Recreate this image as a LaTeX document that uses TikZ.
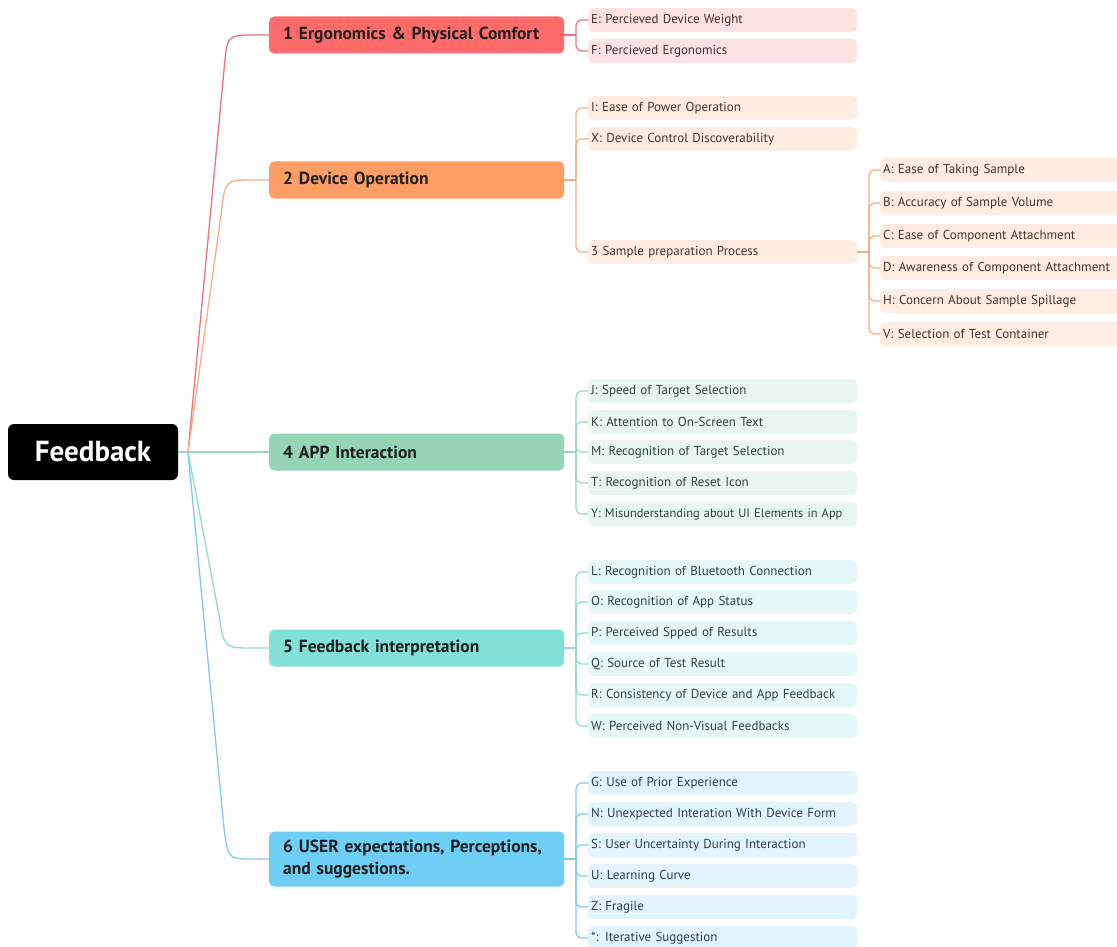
\documentclass[tikz,border=0pt]{standalone}
\usepackage{fontspec}
\setmainfont{PT Sans}
\usepackage{tikz}
\definecolor{tfillA}{HTML}{FF6B6B}
\definecolor{tfillB}{HTML}{FF9E64}
\definecolor{tfillD}{HTML}{96D4B6}
\definecolor{tfillE}{HTML}{82E0D7}
\definecolor{tfillF}{HTML}{6FCEF6}
\definecolor{lineA}{HTML}{E8737A}
\definecolor{lineB}{HTML}{F3AE80}
\definecolor{lineD}{HTML}{99D2C6}
\definecolor{lineE}{HTML}{8ED9D2}
\definecolor{lineF}{HTML}{80CAE8}
\definecolor{lfillA}{HTML}{FFE3E3}
\definecolor{lfillB}{HTML}{FFEDE2}
\definecolor{lfillD}{HTML}{E9F6F0}
\definecolor{lfillE}{HTML}{E6F8F6}
\definecolor{lfillF}{HTML}{E3F4FD}
\definecolor{ltextA}{HTML}{4A2A2A}
\definecolor{ltextB}{HTML}{4A3223}
\definecolor{ltextD}{HTML}{2C443B}
\definecolor{ltextE}{HTML}{2A4442}
\definecolor{ltextF}{HTML}{263F50}

\begin{document}
\begin{tikzpicture}[x=1pt, y=-1pt,
root/.style={fill=black, text=white, rounded corners=6pt, minimum width=170pt, minimum height=56pt, font=\bfseries\fontsize{29}{33}\selectfont},
topic/.style={anchor=west, rounded corners=5pt, inner xsep=14pt, text width=267pt, align=left, minimum height=37pt, text=black!88, font=\bfseries\fontsize{17.5}{22}\selectfont},
leaf/.style={anchor=west, rounded corners=5pt, inner xsep=3pt, text width=263pt, align=left, minimum height=24pt, font=\fontsize{13}{15}\selectfont},
subleaf/.style={leaf, text width=244pt},
conn/.style={line width=1.3pt},
brack/.style={line width=1.2pt, rounded corners=6pt}]
\path[fill=white, use as bounding box] (0,0) rectangle (1117,947);
\node[root] (noeudfb) at (93,452) {Feedback};
\coordinate (noeudj) at (188,452);
\node[topic, fill=tfillA] (noeudt1) at (269,35) {1 Ergonomics \& Physical Comfort};
\node[topic, fill=tfillB] (noeudt2) at (269,180) {2 Device Operation};
\node[topic, fill=tfillD] (noeudt4) at (269,452) {4 APP Interaction};
\node[topic, fill=tfillE] (noeudt5) at (269,648) {5 Feedback interpretation};
\node[topic, fill=tfillF, minimum height=55pt] (noeudt6) at (269,859) {6 USER expectations, Perceptions,\\and suggestions.};
\draw[conn, lineA] (noeudj) -- (224,70) .. controls (227,35) .. (255,35) -- (noeudt1.west);
\draw[conn, lineB] (noeudj) -- (221,215) .. controls (225,180) .. (252,180) -- (noeudt2.west);
\draw[conn, lineE] (noeudj) -- (219,615) .. controls (224,648) .. (252,648) -- (noeudt5.west);
\draw[conn, lineF] (noeudj) -- (224,828) .. controls (228,859) .. (252,859) -- (noeudt6.west);
\draw[conn, lineD] (noeudfb.east) -- (noeudt4.west);
\node[leaf, fill=lfillA, text=ltextA] (noeude) at (588,20) {E: Percieved Device Weight};
\node[leaf, fill=lfillA, text=ltextA] (noeudf) at (588,51) {F: Percieved Ergonomics};
\coordinate (noeudj1) at (576,35);
\draw[conn, lineA] (noeudt1.east) -- (noeudj1);
\draw[brack, lineA] (noeudj1) |- (noeude.west);
\draw[brack, lineA] (noeudj1) |- (noeudf.west);
\node[leaf, fill=lfillB, text=ltextB] (noeudi) at (588,108) {I: Ease of Power Operation};
\node[leaf, fill=lfillB, text=ltextB] (noeudx) at (588,139) {X: Device Control Discoverability};
\node[leaf, fill=lfillB, text=ltextB] (noeudt3) at (588,252) {3 Sample preparation Process};
\coordinate (noeudj2) at (576,180);
\draw[conn, lineB] (noeudt2.east) -- (noeudj2);
\draw[brack, lineB] (noeudj2) |- (noeudi.west);
\draw[brack, lineB] (noeudj2) |- (noeudx.west);
\draw[brack, lineB] (noeudj2) |- (noeudt3.west);
\node[subleaf, fill=lfillB, text=ltextB] (noeuda) at (880,170) {A: Ease of Taking Sample};
\node[subleaf, fill=lfillB, text=ltextB] (noeudb) at (880,203) {B: Accuracy of Sample Volume};
\node[subleaf, fill=lfillB, text=ltextB] (noeudc) at (880,236) {C: Ease of Component Attachment};
\node[subleaf, fill=lfillB, text=ltextB] (noeudd) at (880,268) {D: Awareness of Component Attachment};
\node[subleaf, fill=lfillB, text=ltextB] (noeudh) at (880,301) {H: Concern About Sample Spillage};
\node[subleaf, fill=lfillB, text=ltextB] (noeudv) at (880,334) {V: Selection of Test Container};
\coordinate (noeudj3) at (869,252);
\draw[conn, lineB] (noeudt3.east) -- (noeudj3);
\draw[brack, lineB] (noeudj3) |- (noeuda.west);
\draw[brack, lineB] (noeudj3) |- (noeudb.west);
\draw[brack, lineB] (noeudj3) |- (noeudc.west);
\draw[brack, lineB] (noeudj3) |- (noeudd.west);
\draw[brack, lineB] (noeudj3) |- (noeudh.west);
\draw[brack, lineB] (noeudj3) |- (noeudv.west);
\node[leaf, fill=lfillD, text=ltextD] (noeudjj) at (588,391) {J: Speed of Target Selection};
\node[leaf, fill=lfillD, text=ltextD] (noeudk) at (588,422) {K: Attention to On-Screen Text};
\node[leaf, fill=lfillD, text=ltextD] (noeudm) at (588,452) {M: Recognition of Target Selection};
\node[leaf, fill=lfillD, text=ltextD] (noeudt) at (588,483) {T: Recognition of Reset Icon};
\node[leaf, fill=lfillD, text=ltextD, font=\fontsize{12.4}{15}\selectfont] (noeudy) at (588,514) {\mbox{Y: Misunderstanding about UI Elements in App}};
\coordinate (noeudj4) at (576,452);
\draw[conn, lineD] (noeudt4.east) -- (noeudj4);
\draw[brack, lineD] (noeudj4) |- (noeudjj.west);
\draw[brack, lineD] (noeudj4) |- (noeudk.west);
\draw[brack, lineD] (noeudj4) |- (noeudm.west);
\draw[brack, lineD] (noeudj4) |- (noeudt.west);
\draw[brack, lineD] (noeudj4) |- (noeudy.west);
\node[leaf, fill=lfillE, text=ltextE] (noeudl) at (588,572) {L: Recognition of Bluetooth Connection};
\node[leaf, fill=lfillE, text=ltextE] (noeudo) at (588,602) {O: Recognition of App Status};
\node[leaf, fill=lfillE, text=ltextE] (noeudp) at (588,633) {P: Perceived Spped of Results};
\node[leaf, fill=lfillE, text=ltextE] (noeudq) at (588,664) {Q: Source of Test Result};
\node[leaf, fill=lfillE, text=ltextE] (noeudr) at (588,695) {R: Consistency of Device and App Feedback};
\node[leaf, fill=lfillE, text=ltextE] (noeudw) at (588,726) {W: Perceived Non-Visual Feedbacks};
\coordinate (noeudj5) at (576,648);
\draw[conn, lineE] (noeudt5.east) -- (noeudj5);
\draw[brack, lineE] (noeudj5) |- (noeudl.west);
\draw[brack, lineE] (noeudj5) |- (noeudo.west);
\draw[brack, lineE] (noeudj5) |- (noeudp.west);
\draw[brack, lineE] (noeudj5) |- (noeudq.west);
\draw[brack, lineE] (noeudj5) |- (noeudr.west);
\draw[brack, lineE] (noeudj5) |- (noeudw.west);
\node[leaf, fill=lfillF, text=ltextF] (noeudg) at (588,783) {G: Use of Prior Experience};
\node[leaf, fill=lfillF, text=ltextF] (noeudn) at (588,814) {N: Unexpected Interation With Device Form};
\node[leaf, fill=lfillF, text=ltextF] (noeuds) at (588,845) {S: User Uncertainty During Interaction};
\node[leaf, fill=lfillF, text=ltextF] (noeudu) at (588,876) {U: Learning Curve};
\node[leaf, fill=lfillF, text=ltextF] (noeudz) at (588,907) {Z: Fragile};
\node[leaf, fill=lfillF, text=ltextF] (noeudst) at (588,938) {*: Iterative Suggestion};
\coordinate (noeudj6) at (576,859);
\draw[conn, lineF] (noeudt6.east) -- (noeudj6);
\draw[brack, lineF] (noeudj6) |- (noeudg.west);
\draw[brack, lineF] (noeudj6) |- (noeudn.west);
\draw[brack, lineF] (noeudj6) |- (noeuds.west);
\draw[brack, lineF] (noeudj6) |- (noeudu.west);
\draw[brack, lineF] (noeudj6) |- (noeudz.west);
\draw[brack, lineF] (noeudj6) |- (noeudst.west);
\end{tikzpicture}
\end{document}
